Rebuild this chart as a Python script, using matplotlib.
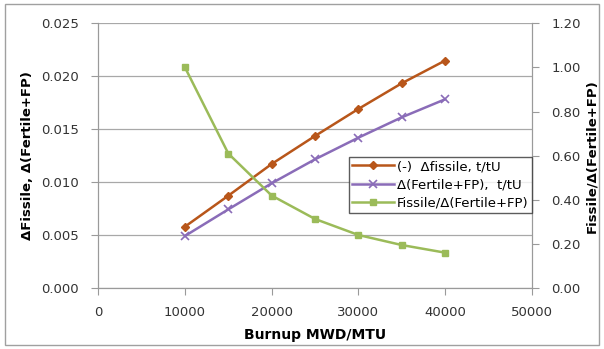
import matplotlib.pyplot as plt
from matplotlib.patches import Rectangle

# burnup points and the three series
burnup = [10000, 15000, 20000, 25000, 30000, 35000, 40000]
d_fissile = [0.00582, 0.00874, 0.01173, 0.01437, 0.01692, 0.01934, 0.02148]
d_fertile_fp = [0.00494, 0.00745, 0.00991, 0.01217, 0.01421, 0.01613, 0.01783]
ratio = [1.00, 0.610, 0.420, 0.314, 0.2415, 0.196, 0.1615]

left_ticks = [0.000, 0.005, 0.010, 0.015, 0.020, 0.025]
right_ticks = [0.0, 0.2, 0.4, 0.6, 0.8, 1.0, 1.2]
x_ticks = [0, 10000, 20000, 30000, 40000, 50000]

plt.rcParams['font.family'] = ['DejaVu Sans']
grey = '#9a9a9a'

fig = plt.figure(figsize=(6.04, 3.49), dpi=100)
ax = fig.add_axes([0.1628, 0.1739, 0.8803 - 0.1628, 0.9332 - 0.1739])
ax2 = ax.twinx()

# outer frame of the chart area
fig.patches.append(Rectangle((0.009, 0.012), 0.982, 0.976, transform=fig.transFigure,
                             fill=False, edgecolor='#a0a0a0', linewidth=1.0))

l1, = ax.plot(burnup, d_fissile, color='#b8561a', marker='D', markersize=4.5,
              linewidth=1.8, label='(-)  \u0394fissile, t/tU')
l2, = ax.plot(burnup, d_fertile_fp, color='#8a6cb8', marker='x', markersize=6,
              markeredgewidth=1.2, linewidth=1.8, label='\u0394(Fertile+FP),  t/tU')
l3, = ax2.plot(burnup, ratio, color='#9bbb59', marker='s', markersize=5,
               linewidth=1.8, label='Fissile/\u0394(Fertile+FP)')

ax.set_xlim(0, 50000)
ax.set_ylim(0, 0.025)
ax2.set_ylim(0, 1.2)
ax.set_xticks(x_ticks)
ax.set_yticks(left_ticks)
ax.set_yticklabels(['%.3f' % v for v in left_ticks])
ax2.set_yticks(right_ticks)
ax2.set_yticklabels(['%.2f' % v for v in right_ticks])

ax.grid(axis='y', color='#a8a8a8', linewidth=0.9)
ax.set_axisbelow(True)

for a in (ax, ax2):
    a.spines['top'].set_visible(False)
    for s in ('left', 'right', 'bottom'):
        a.spines[s].set_color(grey)
    a.tick_params(colors='#333333', labelsize=9.5, length=5, width=0.8)
    a.tick_params(axis='both', color=grey)
ax.tick_params(axis='y', pad=9)
ax2.tick_params(axis='y', pad=9)
ax.tick_params(axis='x', pad=8)

ax.set_xlabel('Burnup MWD/MTU', fontsize=10, fontweight='bold', labelpad=6)
ax.set_ylabel('\u0394Fissile, \u0394(Fertile+FP)', fontsize=9.5, fontweight='bold', labelpad=5)
ax2.set_ylabel('Fissile/\u0394(Fertile+FP)', fontsize=9.5, fontweight='bold', labelpad=3)

leg = ax2.legend(handles=[l1, l2, l3], loc='upper right',
                 bbox_to_anchor=(1.0, 0.4965), fontsize=9.5, frameon=True,
                 fancybox=False, handlelength=3.2, handletextpad=0.2,
                 borderpad=0.25, labelspacing=0.4, borderaxespad=0)
leg.get_frame().set_edgecolor('#333333')
leg.get_frame().set_linewidth(1.0)

fig.savefig('out.png', dpi=100)
